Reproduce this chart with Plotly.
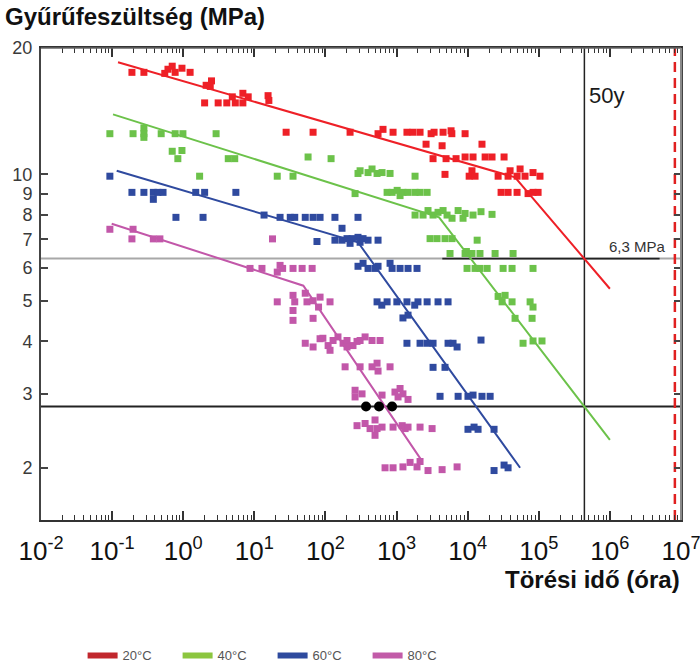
import plotly.graph_objects as go

# ---- Test results: failure time (hours) and hoop stress (MPa) per temperature ----
t20_hours = [0.19, 0.28, 0.55, 0.61, 0.70, 0.77, 0.96, 1.25,
             2.1, 2.5, 2.4,
             2.0, 3.1, 4.1, 4.9, 5.4, 6.9, 6.9, 8.2, 15.6, 16,
             28, 67, 222, 549, 645, 893, 1400, 1700, 2140, 3060, 3370, 4510, 5840, 5990, 9200,
             2600, 4370, 15900,
             3260, 4970, 6870, 9200, 11900, 17600, 22000, 32500,
             4800, 10500, 11500, 12700, 26800, 37000, 39500, 49500, 54600, 64100, 83000, 104000,
             29500, 37000, 49500, 70700, 83000, 97800]
t20_mpa = [17.5, 17.5, 17.4, 17.8, 18.1, 17.5, 17.9, 17.5,
           16.3, 16.7, 16.2,
           14.8, 14.8, 14.8, 15.3, 14.8, 15.6, 14.8, 15.3, 15.4, 15.0,
           12.6, 12.6, 12.6, 12.5, 12.8, 12.6, 12.6, 12.6, 12.6, 12.5, 12.6, 12.6, 12.7, 12.5, 12.5,
           11.8, 11.7, 11.8,
           10.9, 10.9, 10.9, 11.0, 11.0, 11.0, 11.0, 11.0,
           10.0, 9.9, 10.2, 9.9, 9.9, 9.9, 10.2, 9.9, 10.3, 9.9, 10.1, 9.9,
           9.06, 9.06, 9.06, 9.0, 9.06, 9.06]

t40_hours = [0.093, 0.197, 0.28, 0.28, 0.28, 0.49, 0.77, 0.99, 2.9,
             0.70, 0.96, 0.84, 4.3, 5.3, 1.7,
             57, 120, 21, 35,
             287, 307, 397, 452, 532, 625, 810, 1820,
             261, 736, 866, 1020, 1120, 1230, 1450, 1820, 2140, 2690,
             1820, 2360, 2770, 3260, 3830, 4510, 5130, 6030, 7340, 8610, 9200, 11900, 15400, 22000,
             2960, 3710, 4800, 6030, 13600,
             5650, 9200, 9600, 11500, 14900, 24300, 43500,
             9800, 12700, 14900, 18800, 31500, 42100, 83000,
             26800, 33600, 30500, 42100, 75500, 83000,
             46400, 80500,
             60100, 83000, 111000]
t40_mpa = [12.5, 12.5, 12.9, 12.5, 12.25, 12.5, 12.5, 12.5, 12.5,
           11.35, 11.4, 10.9, 10.9, 10.9, 9.9,
           11.0, 10.9, 9.9, 9.9,
           10.05, 10.2, 10.1, 10.3, 10.05, 10.1, 10.05, 9.9,
           9.0, 9.06, 9.06, 9.16, 8.9, 9.06, 9.06, 9.06, 9.06, 9.06,
           8.0, 8.0, 8.2, 8.0, 8.12, 8.2, 8.0, 7.86, 8.2, 7.86, 8.07, 8.0, 8.15, 8.03,
           7.03, 7.03, 7.03, 7.03, 6.97,
           6.48, 6.48, 6.55, 6.48, 6.48, 6.48, 6.48,
           5.97, 5.97, 5.97, 5.97, 5.97, 5.97, 5.97,
           5.12, 5.15, 4.97, 4.97, 4.97, 4.83,
           4.54, 4.54,
           3.96, 4.01, 4.01]

t60_hours = [0.093, 0.19, 0.28, 0.38, 0.38, 0.44, 0.52, 1.5, 2.0, 5.5,
             0.79, 1.9, 13.7, 23, 32, 37, 52, 67, 84, 136, 287,
             171, 76, 136, 171, 222, 201, 237, 287, 307, 338, 397, 549,
             287, 338, 397, 498, 549, 810, 866, 1120, 1450, 1940,
             532, 736, 1010, 1400, 2000, 2690, 3830, 5300, 620, 1800,
             1230, 1450,
             1400, 2140, 2690, 3260, 5300, 6230, 7100, 15400,
             3260, 4800,
             4090, 7340, 10100, 11900, 15900, 20700,
             10100, 12300, 14000, 23500,
             23500, 32500, 37000]
t60_mpa = [9.9, 9.06, 9.06, 9.06, 8.72, 9.06, 9.06, 9.06, 9.06, 9.06,
           7.9, 7.9, 8.0, 7.9, 7.9, 7.9, 7.9, 7.9, 7.9, 7.9, 7.9,
           7.44, 6.92, 6.97, 6.97, 6.85, 7.03, 7.03, 7.08, 6.89, 7.03, 6.97, 6.97,
           6.04, 6.14, 5.97, 5.97, 6.04, 6.14, 5.97, 5.97, 5.97, 5.97,
           4.97, 4.97, 4.97, 4.97, 4.97, 4.97, 4.97, 4.97, 4.88, 4.88,
           4.55, 4.62,
           3.96, 3.96, 3.96, 3.96, 3.96, 3.96, 3.88, 4.03,
           3.47, 3.47,
           2.96, 2.96, 2.96, 2.98, 2.96, 2.96,
           2.47, 2.5, 2.47, 2.47,
           1.97, 2.03, 2.0]

t80_hours = [0.093, 0.197, 0.19, 0.38, 0.47, 18,
             8.7, 12.8, 21, 23, 25, 35, 47, 65,
             21, 35, 37, 52, 55, 67, 84, 80, 116,
             35, 67, 35,
             52, 67, 84, 92, 109, 128, 150, 177, 201, 244, 278, 307, 361, 452, 586,
             116, 201,
             189, 307, 452, 532, 549, 810,
             261, 261, 327, 625, 950, 1120, 1230, 1050, 1450,
             278, 361, 424, 498, 532, 498, 625, 893, 1200, 1320, 1450, 2140, 3160,
             689, 893, 1230, 1550, 1940, 2140, 2770, 4370, 7100]
t80_mpa = [7.4, 7.4, 7.02, 7.02, 7.02, 7.02,
           5.97, 5.97, 5.85, 6.07, 5.97, 5.97, 5.97, 5.97,
           4.97, 5.15, 4.97, 5.21, 4.97, 5.0, 5.1, 4.83, 4.97,
           4.74, 4.54, 4.49,
           3.96, 3.88, 4.06, 4.07, 3.91, 4.02, 4.1, 3.96, 4.02, 3.91, 4.0, 4.02, 4.1, 4.02, 4.02,
           3.81, 3.88,
           3.48, 3.48, 3.48, 3.55, 3.4, 3.48,
           3.06, 2.95, 3.0, 2.98, 3.03, 3.09, 3.0, 2.95, 2.91,
           2.52, 2.55, 2.48, 2.39, 2.48, 2.6, 2.5, 2.5, 2.52, 2.48, 2.5, 2.5, 2.48,
           2.0, 2.0, 2.01, 2.06, 2.01, 2.07, 1.97, 1.98, 2.01]

# ---- Regression lines (start, knee, end) ----
fit20_hours = [0.121, 46400, 1.0e6]
fit20_mpa = [18.5, 9.84, 5.34]
fit40_hours = [0.103, 3960, 1.0e6]
fit40_mpa = [13.9, 7.9, 2.33]
fit60_hours = [0.116, 287, 54600]
fit60_mpa = [10.2, 6.89, 2.0]
fit80_hours = [0.0986, 48.9, 2260]
fit80_mpa = [7.63, 5.43, 2.08]

# ---- Reference levels ----
design_stress = 6.3          # MPa at 20 °C, 50 years
stress_40c_50y = 2.8         # MPa at 40 °C, 50 years
hours_50y = 50 * 8760        # 50 years in hours
limit_hours = 8.2e6
marked_hours = [372, 567, 865]
marked_mpa = [2.8, 2.8, 2.8]

labels = ["20°C", "40°C", "60°C", "80°C"]
point_colors = ["#ee2027", "#6cc24a", "#2f4a9f", "#c257a9"]
legend_colors = ["#c1272d", "#8cc63f", "#2e4a9e", "#c25ba8"]

x_min, x_max = 1e-2, 1e7
y_min, y_max = 1.502, 20

series = [
    (t20_hours, t20_mpa, fit20_hours, fit20_mpa),
    (t40_hours, t40_mpa, fit40_hours, fit40_mpa),
    (t60_hours, t60_mpa, fit60_hours, fit60_mpa),
    (t80_hours, t80_mpa, fit80_hours, fit80_mpa),
]

fig = go.Figure()

# reference lines
fig.add_trace(go.Scatter(x=[x_min, x_max], y=[design_stress, design_stress], mode="lines",
                         line=dict(color="#a8a8a8", width=2), showlegend=False, hoverinfo="skip"))
fig.add_trace(go.Scatter(x=[4400, 5.0e6], y=[design_stress, design_stress], mode="lines",
                         line=dict(color="#222222", width=1.6), showlegend=False, hoverinfo="skip"))
fig.add_trace(go.Scatter(x=[x_min, x_max], y=[stress_40c_50y, stress_40c_50y], mode="lines",
                         line=dict(color="#222222", width=2), showlegend=False, hoverinfo="skip"))
fig.add_trace(go.Scatter(x=[hours_50y, hours_50y], y=[y_min, y_max], mode="lines",
                         line=dict(color="#222222", width=1.5), showlegend=False, hoverinfo="skip"))
fig.add_trace(go.Scatter(x=[limit_hours, limit_hours], y=[y_min, y_max], mode="lines",
                         line=dict(color="#e02020", width=2.5, dash="10px,6px"),
                         showlegend=False, hoverinfo="skip"))

for (hx, hy, fx, fy), col in zip(series, point_colors):
    fig.add_trace(go.Scatter(x=hx, y=hy, mode="markers",
                             marker=dict(symbol="square", size=7, color=col, line=dict(width=0)),
                             showlegend=False))
for (hx, hy, fx, fy), col in zip(series, point_colors):
    fig.add_trace(go.Scatter(x=fx, y=fy, mode="lines", line=dict(color=col, width=2),
                             showlegend=False))

fig.add_trace(go.Scatter(x=marked_hours, y=marked_mpa, mode="markers",
                         marker=dict(symbol="circle", size=10, color="black"), showlegend=False))

# legend entries
for name, col in zip(labels, legend_colors):
    fig.add_trace(go.Scatter(x=[None], y=[None], mode="lines", name=name,
                             line=dict(color=col, width=6)))

minor_vals = [m * 10.0 ** k for k in range(-2, 7) for m in range(2, 10)]
x_ticks = [10.0 ** k for k in range(-2, 8)]
x_text = ["10<sup>%d</sup>" % k for k in range(-2, 8)]
y_ticks = [2, 3, 4, 5, 6, 7, 8, 9, 10, 20]

fig.update_layout(
    width=700, height=666,
    margin=dict(l=41, r=19, t=48, b=146, autoexpand=False),
    paper_bgcolor="white", plot_bgcolor="white",
    font=dict(family="Arial, Liberation Sans, sans-serif", color="#222"),
    xaxis=dict(type="log", range=[-2, 7], showgrid=False, zeroline=False, automargin=False,
               showline=True, linecolor="#333", linewidth=2, mirror="ticks",
               ticks="inside", ticklen=9, tickwidth=1.5, tickcolor="#333",
               tickvals=x_ticks, ticktext=x_text, ticklabelstandoff=7,
               ticklabeloverflow="allow",
               tickfont=dict(size=26, color="#111"),
               minor=dict(tickvals=minor_vals, ticks="inside", ticklen=5,
                          tickwidth=1.2, tickcolor="#333", showgrid=False)),
    yaxis=dict(type="log", range=[0.17667, 1.30103], showgrid=False, zeroline=False,
               automargin=False,
               showline=True, linecolor="#444", linewidth=2, mirror="ticks",
               ticks="inside", ticklen=7, tickwidth=1.5, tickcolor="#444",
               tickvals=y_ticks, ticktext=[str(v) for v in y_ticks], ticklabelstandoff=3,
               tickfont=dict(size=18, color="#3a3a3a")),
    legend=dict(orientation="h", x=0.065, y=-0.287, xanchor="left", yanchor="middle",
                entrywidth=50, entrywidthmode="pixels", itemwidth=30,
                font=dict(size=13, color="#555"), bgcolor="rgba(0,0,0,0)"),
    shapes=[
        dict(type="line", xref="paper", yref="paper", x0=0, x1=1, y0=1, y1=1,
             line=dict(color="#666", width=1.5)),
        dict(type="line", xref="paper", yref="paper", x0=1, x1=1, y0=0, y1=1,
             line=dict(color="#8a8a8a", width=2)),
    ],
    annotations=[
        dict(text="<b>Gyűrűfeszültség (MPa)</b>", xref="paper", yref="paper",
             x=-0.0594, y=1.0657, xanchor="left", yanchor="middle", showarrow=False,
             font=dict(size=24, color="#111")),
        dict(text="<b>Törési idő (óra)</b>", xref="paper", yref="paper",
             x=1.0016, y=-0.1255, xanchor="right", yanchor="middle", showarrow=False,
             font=dict(size=24, color="#111")),
        dict(text="50y", xref="paper", yref="paper", x=0.853, y=0.9, xanchor="left",
             yanchor="middle", showarrow=False, font=dict(size=22, color="#1a1a1a")),
        dict(text="6,3 MPa", xref="paper", yref="paper", x=0.9797, y=0.5805, xanchor="right",
             yanchor="middle", showarrow=False, font=dict(size=15, color="#333")),
    ],
)

fig.write_html("out.html")
